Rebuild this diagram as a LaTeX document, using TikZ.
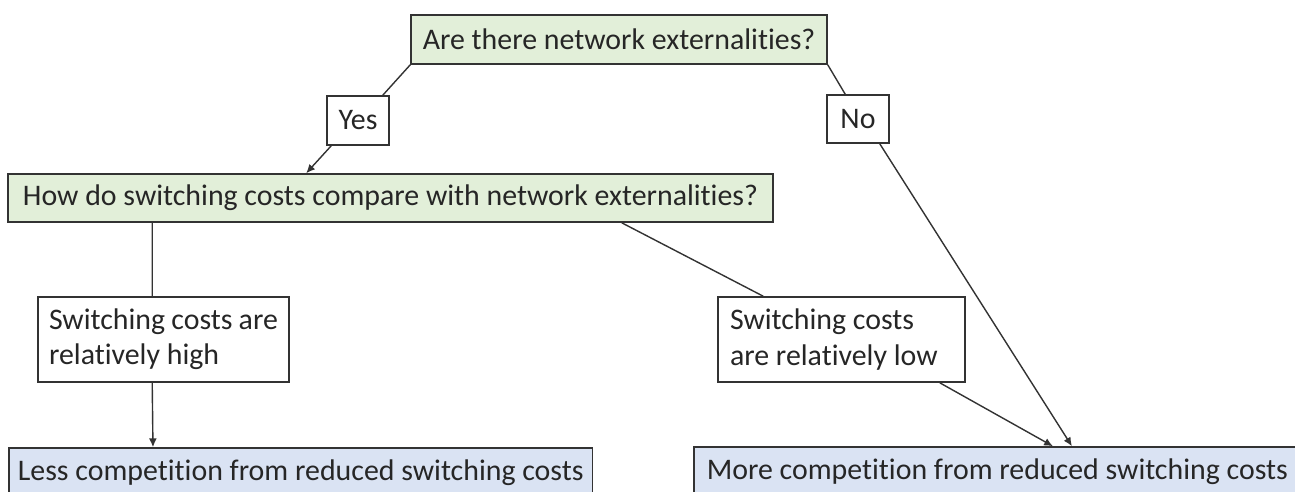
\documentclass[tikz,border=0pt]{standalone}
\usepackage{fontspec}
\setmainfont{Carlito}[Ligatures=NoCommon]
\usetikzlibrary{arrows.meta,positioning}
\definecolor{askgreen}{HTML}{E2EFD9}
\definecolor{endblue}{HTML}{DAE3F3}
\tikzset{
    box/.style={draw=black!80, line width=0.9pt, text=black!85, inner sep=0pt,
        font=\fontsize{17}{20}\selectfont},
    ask/.style={box, fill=askgreen},
    outcome/.style={box, fill=endblue},
    link/.style={draw=black!80, line width=0.8pt},
    arr/.style={link, -{Latex[length=5pt,width=4.5pt]}}
}

\begin{document}
\begin{tikzpicture}[x=0.02cm, y=-0.02cm]
            \useasboundingbox (0,0) rectangle (1295,491);
            \clip (0,0) rectangle (1295,491);
            \node[ask, minimum width=8.32cm, minimum height=0.98cm] (q1) at (619,39.5) {Are there network externalities?};
            \node[box, minimum width=1.24cm, minimum height=0.98cm] (yes) at (358,120.5) {Yes};
            \node[box, minimum width=1.24cm, minimum height=0.96cm] (no) at (858,119) {No};
            \node[ask, minimum width=15.3cm, minimum height=0.96cm] (q2) at (390.5,198) {How do switching costs compare with network externalities?};
            \node[box, minimum height=1.7cm, text width=4.58cm, inner xsep=0.22cm, align=flush left] (hi) at (163.5,339.5) {Switching~costs~are\\relatively~high};
            \node[box, minimum height=1.7cm, text width=4.46cm, inner xsep=0.24cm, align=flush left] (lo) at (841.5,339.5) {Switching~costs\\are~relatively~low};
            \node[outcome, anchor=west, minimum width=11.68cm, minimum height=1.0cm] (less) at (8,473) {Less competition from reduced switching costs};
            \node[outcome, anchor=west, minimum height=1.0cm, text width=12.48cm, inner xsep=0.26cm, align=flush left] (more) at (693,472) {More competition from reduced switching costs};
            \draw[link] (q1.south west) -- ([xshift=-0.14cm]yes.north east);
            \draw[arr] ([xshift=0.1cm]yes.south west) -- ([xshift=5.98cm]q2.north west);
            \draw[link] (q1.south east) -- ([xshift=0.38cm]no.north west);
            \draw[arr] ([xshift=-0.2cm]no.south east) -- ([xshift=7.58cm]more.north west);
            \draw[link] ([xshift=2.9cm]q2.south west) -- ([xshift=2.3cm]hi.north west);
            \draw[arr] ([xshift=2.3cm]hi.south west) -- ([xshift=2.9cm]less.north west);
            \draw[link] ([xshift=-3.04cm]q2.south east) -- ([xshift=0.92cm]lo.north west);
            \draw[arr] ([xshift=-0.52cm]lo.south east) -- ([xshift=7.2cm]more.north west);
\end{tikzpicture}
\end{document}
